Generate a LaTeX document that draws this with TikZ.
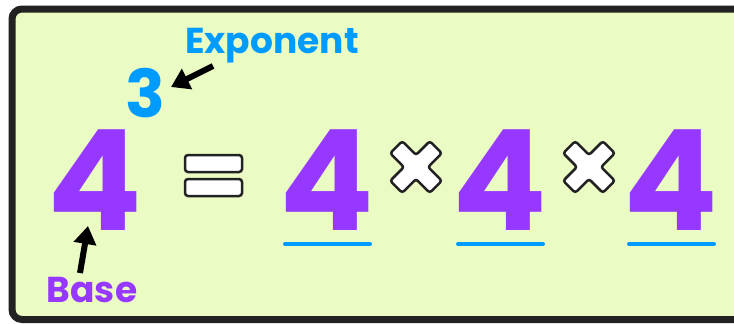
\documentclass[tikz,border=0pt]{standalone}
\usepackage{fontspec}
\setmainfont{Poppins}
\usepackage{tikz}
\usetikzlibrary{positioning,arrows.meta}
\usepackage{xcolor}
\definecolor{frame}{HTML}{222222}
\definecolor{board}{HTML}{EBFBC4}
\definecolor{basepurple}{HTML}{9638FF}
\definecolor{expblue}{HTML}{009BFF}

\tikzset{
  digit/.style={text=basepurple, font=\fontsize{140}{140}\selectfont\bfseries, inner sep=0, anchor=base},
  tag/.style={font=\fontsize{36}{36}\selectfont\bfseries, inner sep=0, anchor=base},
  pointer/.style={-{Triangle[length=18pt,width=22pt]}, line width=6pt, black},
  rule/.style={expblue, line width=4pt, line cap=round},
  bar/.style={draw=frame, fill=white, line width=2.5pt, rounded corners=3pt},
  timesmark/.pic={\draw[frame, fill=white, line width=2.5pt, rounded corners=2.5pt, rotate=45]
    (-8.5,28) -- (8.5,28) -- (8.5,8.5) -- (28,8.5) -- (28,-8.5) -- (8.5,-8.5) -- (8.5,-28) -- (-8.5,-28)
    -- (-8.5,-8.5) -- (-28,-8.5) -- (-28,8.5) -- (-8.5,8.5) -- cycle;}
}

\begin{document}
\begin{tikzpicture}[x=1pt, y=-1pt]
\useasboundingbox (0,0) rectangle (734,324);
\clip (0,0) rectangle (734,324);
\draw[frame, fill=board, line width=7pt, rounded corners=10pt] (12,9) rectangle (760,319.5);

% power side
\node[digit] (base4) at (95,230) {4};
\node[tag, text=expblue, font=\fontsize{66}{66}\selectfont\bfseries] (three) at (145,117) {3};
\node[tag, text=expblue] (expo) at (272,53) {Exponent};
\node[tag, text=basepurple] (basetag) at (92,302) {Base};

\coordinate (expotail) at (213,66);
\coordinate (expohead) at (171,87);
\coordinate (basetail) at (80,273);
\coordinate (basehead) at (88,226);
\draw[pointer] (expotail) -- (expohead);
\draw[pointer] (basetail) -- (basehead);

% equals
\draw[bar] (185,155) rectangle (242,172);
\draw[bar] (185,179) rectangle (242,196);

% product side
\node[digit] (four1) at (327,230) {4};
\node[digit] (four2) at (500,230) {4};
\node[digit] (four3) at (671,230) {4};
\pic at (416,167) {timesmark};
\pic at (589,167) {timesmark};
\foreach \f in {four1,four2,four3}
  \draw[rule] ([xshift=-42pt,yshift=-14pt]\f.base) -- ([xshift=43pt,yshift=-14pt]\f.base);
\end{tikzpicture}
\end{document}
